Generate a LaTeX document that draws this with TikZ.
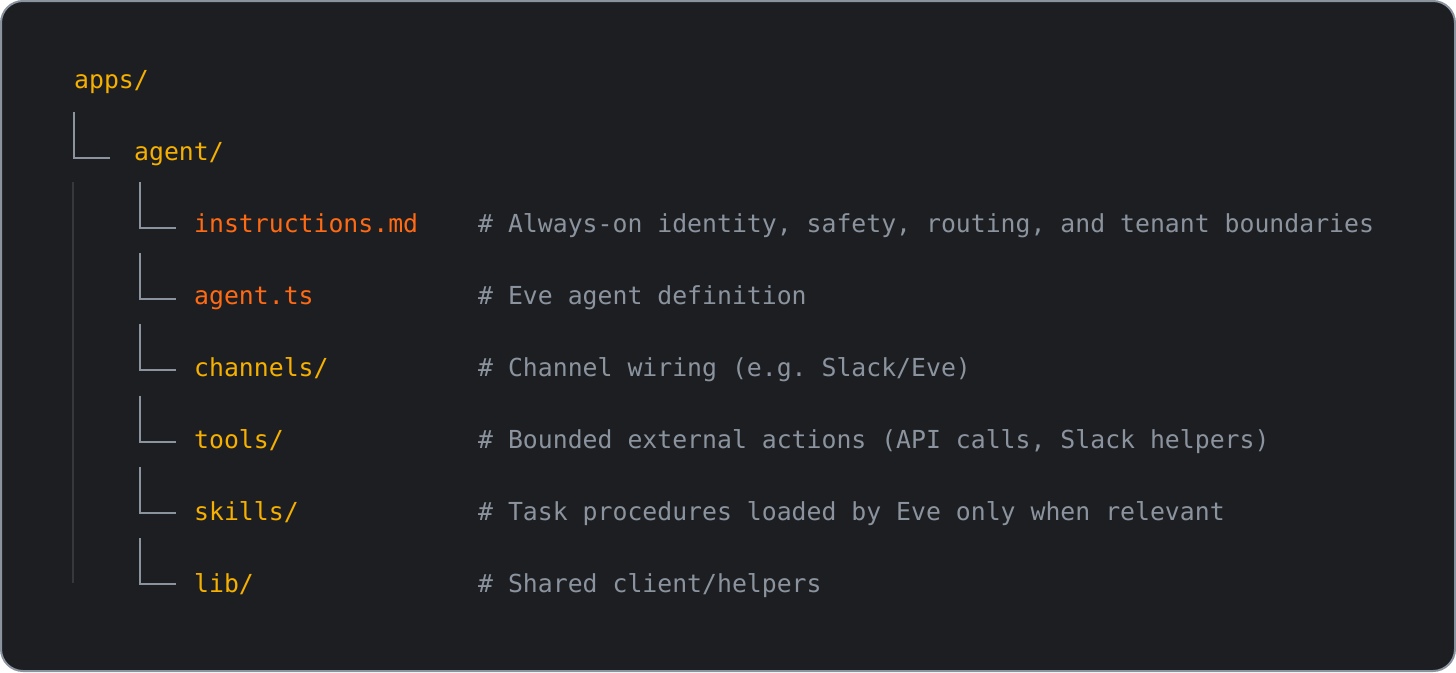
\documentclass[tikz,border=0pt]{standalone}
\usepackage{fontspec}
\setmonofont{DejaVu Sans Mono}
\definecolor{bgc}{HTML}{1D1E22}
\definecolor{framec}{HTML}{8A939E}
\definecolor{dirc}{HTML}{F5B000}
\definecolor{filec}{HTML}{FF6A14}
\definecolor{cmtc}{HTML}{8B949E}
\definecolor{linec}{HTML}{8B949E}
\definecolor{guidec}{HTML}{36383E}
\tikzset{
  txt/.style={anchor=base west, inner sep=0pt, font=\ttfamily\fontsize{24.8}{30}\selectfont},
  dirnode/.style={txt, text=dirc},
  filenode/.style={txt, text=filec},
  cmtnode/.style={txt, text=cmtc},
  branch/.style={draw=linec, line width=2pt},
  guide/.style={draw=guidec, line width=2pt}
}
\begin{document}
\begin{tikzpicture}[x=1pt,y=-1pt]
\useasboundingbox (0,0) rectangle (1456,672);
\draw[fill=bgc, draw=framec, line width=2pt, rounded corners=22pt] (1,1) rectangle (1455,671);

\node[dirnode] (apps) at (74,88) {apps/};
\node[dirnode] (agent) at (134,160) {agent/};

\coordinate (a0) at (74,112);
\coordinate (a1) at (110,158);
\draw[branch] (a0) |- (a1);

\coordinate (g0) at (73,182);
\coordinate (g1) at (73,583);
\draw[guide] (g0) -- (g1);

\foreach \name/\label/\sty/\cmt [count=\i from 0] in {
  instr/instructions.md/filenode/{\# Always-on identity, safety, routing, and tenant boundaries},
  agentts/agent.ts/filenode/{\# Eve agent definition},
  channels/channels\slash/dirnode/{\# Channel wiring (e.g. Slack/Eve)},
  tools/tools\slash/dirnode/{\# Bounded external actions (API calls, Slack helpers)},
  skills/skills\slash/dirnode/{\# Task procedures loaded by Eve only when relevant},
  lib/lib\slash/dirnode/{\# Shared client/helpers}}
{
  \pgfmathsetmacro{\yb}{232+72*\i}
  \pgfmathsetmacro{\yt}{182+71.2*\i}
  \pgfmathsetmacro{\ye}{228+71.2*\i}
  \node[\sty] (\name) at (194,\yb) {\label};
  \node[cmtnode] (\name c) at (478,\yb) {\cmt};
  \coordinate (\name t) at (140,\yt);
  \coordinate (\name e) at (176,\ye);
  \draw[branch] (\name t) |- (\name e);
}
\end{tikzpicture}
\end{document}
